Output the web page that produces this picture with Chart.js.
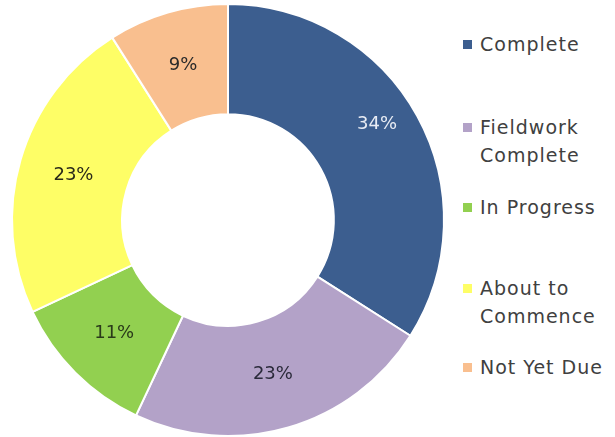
<!DOCTYPE html>
<html>
<head>
<meta charset="utf-8">
<script src="https://cdn.jsdelivr.net/npm/chart.js@4"></script>
<style>
  body { margin: 0; background: #fff; }
  #wrap { position: relative; width: 615px; height: 437px; }
  #box { position: absolute; left: 0; top: 0; width: 460px; height: 437px; }
  #legend { position: absolute; left: 460px; top: 0; font-family: "DejaVu Sans", sans-serif; font-size: 19px; letter-spacing: 1px; color: #404040; }
  .item { position: absolute; left: 0; white-space: nowrap; line-height: 28px; }
  .sw { position: absolute; left: 3px; top: 10px; width: 9px; height: 9px; }
  .txt { position: absolute; left: 20px; top: 0; }
</style>
</head>
<body>
<div id="wrap">
  <div id="box"><canvas id="StatusChart"></canvas></div>
  <div id="legend"></div>
</div>
<script>
// Status labels (legend text, split into lines)
let statuses = [["Complete"], ["Fieldwork", "Complete"], ["In Progress"], ["About to", "Commence"], ["Not Yet Due"]];
// Share of audits per status, in percent
let shares = [34, 23, 11, 23, 9];
let colors = ['#3C5E8F', '#B3A2C8', '#92D050', '#FEFE66', '#F9BF8F'];
let labelColors = ['#E8ECF4', '#2A2A3A', '#2A3A1A', '#2A2A1A', '#2A2A2A'];

// Writes the percentages onto the slices
const sliceLabels = {
    id: 'sliceLabels',
    afterDatasetsDraw(chart) {
        const ctx = chart.ctx;
        const meta = chart.getDatasetMeta(0);
        ctx.save();
        ctx.font = '18px "DejaVu Sans", sans-serif';
        ctx.textAlign = 'center';
        ctx.textBaseline = 'middle';
        meta.data.forEach((arc, i) => {
            const p = arc.tooltipPosition();
            // the big slice label sits a bit further out in the original
            const dx = i === 0 ? 8 : 0, dy = i === 0 ? -18 : 0;
            ctx.fillStyle = labelColors[i];
            ctx.fillText(shares[i] + '%', p.x + dx, p.y + dy);
        });
        ctx.restore();
    }
};

new Chart("StatusChart", {
    type: "doughnut",
    data: {
        labels: statuses.map(s => s.join(' ')),
        datasets: [{
            data: shares,
            backgroundColor: colors,
            borderColor: "white",
            borderWidth: 2
        }]
    },
    options: {
        responsive: true,
        maintainAspectRatio: false,
        animation: false,
        cutout: '49%',
        layout: { padding: { left: 9, right: 13, top: 3, bottom: 0 } },
        plugins: {
            legend: { display: false },
            tooltip: { enabled: false }
        }
    },
    plugins: [sliceLabels]
});

// Legend on the right
let tops = [30, 113, 193, 274, 353];
let legend = document.getElementById('legend');
statuses.forEach((s, i) => {
    let item = document.createElement('div');
    item.className = 'item';
    item.style.top = tops[i] + 'px';
    item.innerHTML = '<div class="sw" style="background:' + colors[i] + '"></div><div class="txt">' + s.join('<br>') + '</div>';
    legend.appendChild(item);
});
</script>
</body>
</html>
